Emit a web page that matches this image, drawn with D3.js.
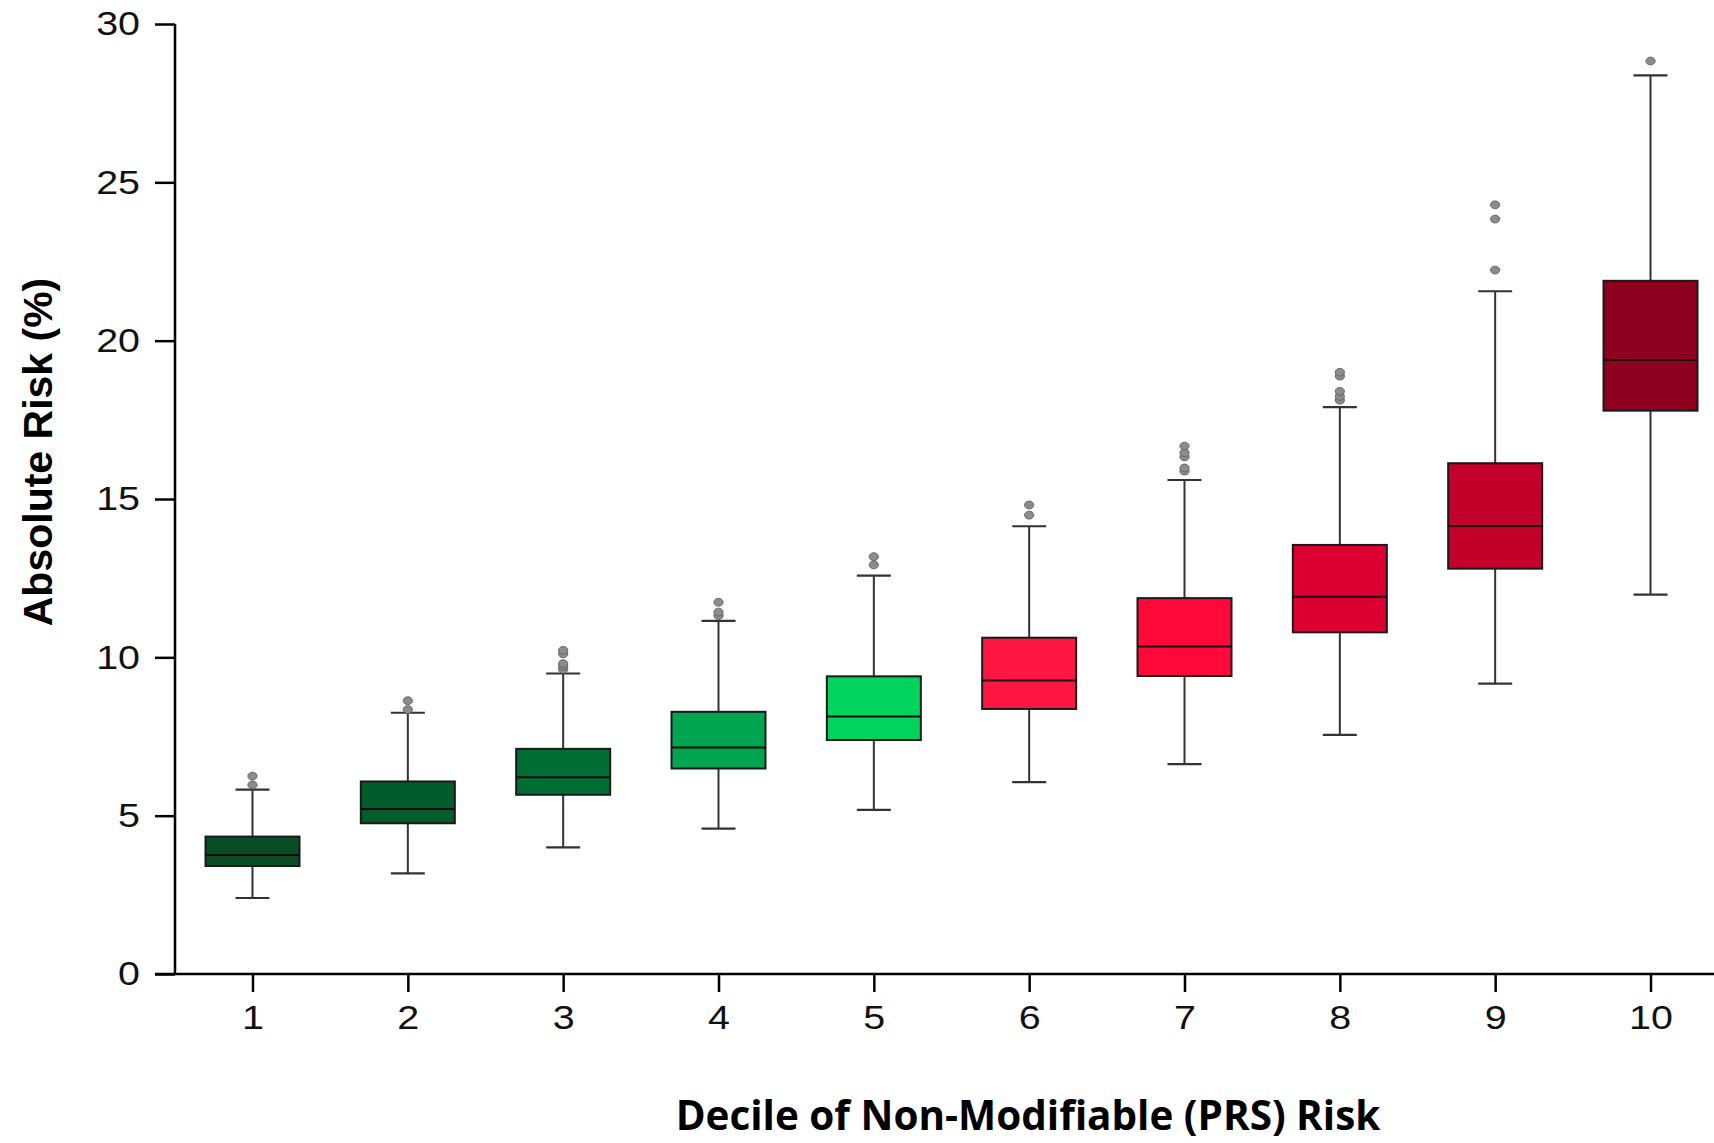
<!DOCTYPE html>
<html>
<head>
<meta charset="utf-8">
<script src="https://cdn.jsdelivr.net/npm/d3@7"></script>
<style>
  html, body { margin: 0; padding: 0; background: #fff; }
  svg { display: block; }
</style>
</head>
<body>
<svg id="chart" width="1714" height="1143"></svg>
<script>
// Absolute risk by PRS decile: box-and-whisker summary per decile
const deciles = [1, 2, 3, 4, 5, 6, 7, 8, 9, 10];
const whiskerLow  = [2.40, 3.18, 4.00, 4.59, 5.18, 6.06, 6.63, 7.55, 9.17, 11.98];
const q1          = [3.41, 4.76, 5.66, 6.49, 7.39, 8.37, 9.41, 10.79, 12.80, 17.79];
const median      = [3.76, 5.21, 6.21, 7.15, 8.13, 9.27, 10.34, 11.91, 14.15, 19.39];
const q3          = [4.34, 6.08, 7.11, 8.28, 9.40, 10.62, 11.87, 13.55, 16.13, 21.89];
const whiskerHigh = [5.82, 8.25, 9.49, 11.15, 12.58, 14.14, 15.60, 17.90, 21.56, 28.38];
const outliers = [
  [5.97, 6.25],
  [8.35, 8.63],
  [9.62, 9.72, 9.80, 10.11, 10.22],
  [11.32, 11.43, 11.74],
  [12.92, 13.18],
  [14.49, 14.81],
  [15.88, 15.98, 16.33, 16.46, 16.67],
  [18.12, 18.24, 18.40, 18.88, 19.00],
  [22.23, 23.84, 24.29],
  [28.83]
];
const yTicks = [0, 5, 10, 15, 20, 25, 30];
const boxColors = ["#0a4d25", "#005c2b", "#006d34", "#00a64f", "#00d45c",
                   "#ff1744", "#ff083a", "#db0030", "#c3002a", "#8f001f"];

const svg = d3.select("#chart");

const axisX = 175, baseY = 974, topY = 24;
const x = d3.scalePoint().domain(deciles).range([252.5, 1650.5]);
const y = d3.scaleLinear().domain([0, 30]).range([baseY, topY]);
const boxW = 94, capW = 17;
const labelStretch = 1.16;   // tick labels are drawn slightly wide

const rows = deciles.map((d, i) => ({
  d, lo: whiskerLow[i], q1: q1[i], med: median[i], q3: q3[i], hi: whiskerHigh[i],
  out: outliers[i], color: boxColors[i]
}));

// y axis
const yAxis = svg.append("g")
  .attr("transform", `translate(${axisX},0)`)
  .call(d3.axisLeft(y).tickValues(yTicks).tickSize(20).tickPadding(14).tickSizeOuter(0));
yAxis.select(".domain").attr("stroke", "#000").attr("stroke-width", 2.5)
  .attr("d", `M0,${topY}V${baseY}`);
yAxis.selectAll(".tick line").attr("stroke", "#000").attr("stroke-width", 2.5);
yAxis.selectAll(".tick text")
  .attr("x", 0)
  .attr("transform", `translate(-35,0) scale(${labelStretch},1)`)
  .attr("font-family", "'Liberation Sans', Arial, sans-serif")
  .attr("font-size", 34).attr("fill", "#111");

// x axis
const xAxis = svg.append("g")
  .attr("transform", `translate(0,${baseY})`)
  .call(d3.axisBottom(x).tickSize(18).tickPadding(13).tickSizeOuter(0));
xAxis.select(".domain").attr("stroke", "#000").attr("stroke-width", 2.5)
  .attr("d", "M155,0H1714");
xAxis.selectAll(".tick line").attr("stroke", "#000").attr("stroke-width", 2.5);
xAxis.selectAll(".tick text")
  .attr("transform", `scale(${labelStretch},1)`)
  .attr("font-family", "'Liberation Sans', Arial, sans-serif")
  .attr("font-size", 34).attr("fill", "#111");

// boxes
const g = svg.append("g").selectAll("g").data(rows).join("g")
  .attr("transform", r => `translate(${x(r.d)},0)`);

// whisker stems
g.append("line")
  .attr("x1", 0).attr("x2", 0)
  .attr("y1", r => y(r.q3)).attr("y2", r => y(r.hi))
  .attr("stroke", "#333").attr("stroke-width", 2);
g.append("line")
  .attr("x1", 0).attr("x2", 0)
  .attr("y1", r => y(r.q1)).attr("y2", r => y(r.lo))
  .attr("stroke", "#333").attr("stroke-width", 2);
// whisker caps
g.append("line")
  .attr("x1", -capW).attr("x2", capW)
  .attr("y1", r => y(r.hi)).attr("y2", r => y(r.hi))
  .attr("stroke", "#333").attr("stroke-width", 2.2);
g.append("line")
  .attr("x1", -capW).attr("x2", capW)
  .attr("y1", r => y(r.lo)).attr("y2", r => y(r.lo))
  .attr("stroke", "#333").attr("stroke-width", 2.2);

// interquartile box
g.append("rect")
  .attr("x", -boxW / 2).attr("width", boxW)
  .attr("y", r => y(r.q3)).attr("height", r => y(r.q1) - y(r.q3))
  .attr("fill", r => r.color)
  .attr("stroke", "#1a1a1a").attr("stroke-width", 2);

// median
g.append("line")
  .attr("x1", -boxW / 2).attr("x2", boxW / 2)
  .attr("y1", r => y(r.med)).attr("y2", r => y(r.med))
  .attr("stroke", "#1a0a0a").attr("stroke-width", 2);

// outliers
g.selectAll("ellipse").data(r => r.out).join("ellipse")
  .attr("cx", 0).attr("cy", v => y(v))
  .attr("rx", 4.6).attr("ry", 3.9)
  .attr("fill", "#8c8c8c").attr("stroke", "#666").attr("stroke-width", 1);

// y axis title
svg.append("text")
  .attr("transform", "translate(52,452) rotate(-90)")
  .attr("text-anchor", "middle")
  .attr("font-family", "'Liberation Sans', Arial, sans-serif")
  .attr("font-weight", "bold")
  .attr("font-size", 41)
  .attr("fill", "#000")
  .text("Absolute Risk (%)");

// x axis title, sized to span its slot
const xt = svg.append("text")
  .attr("x", 1028).attr("y", 1130)
  .attr("text-anchor", "middle")
  .attr("font-family", "'Open Sans', sans-serif")
  .attr("font-weight", "bold")
  .attr("font-size", 34)
  .attr("fill", "#000")
  .text("Decile of Non-Modifiable (PRS) Risk");
const w = xt.node().getComputedTextLength();
xt.attr("font-size", 34 * 705 / w);
</script>
</body>
</html>
